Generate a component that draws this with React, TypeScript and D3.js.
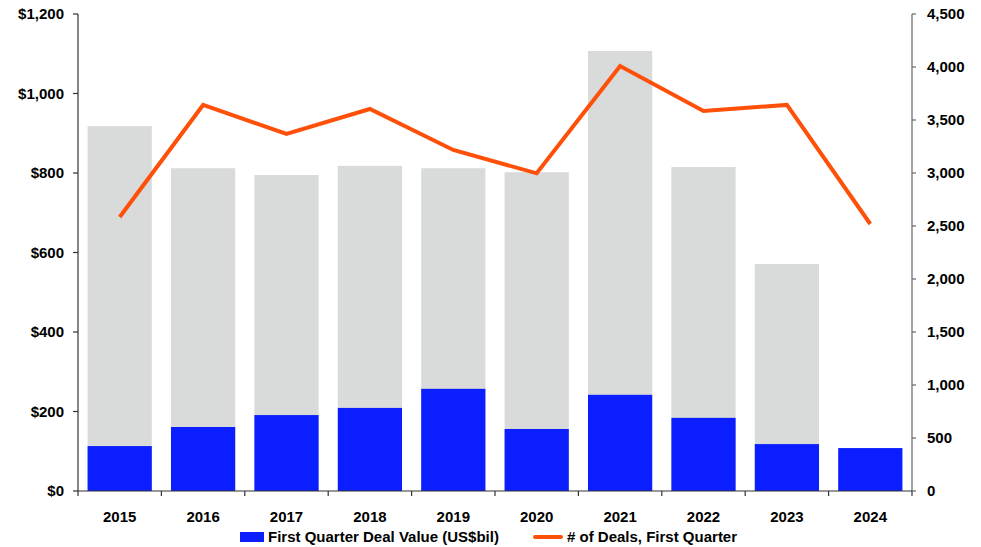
import React from "react";
import * as d3 from "d3";

const years = ["2015", "2016", "2017", "2018", "2019", "2020", "2021", "2022", "2023", "2024"];
const totalValue = [918, 812, 795, 818, 812, 802, 1107, 815, 571, 0];
const q1Value = [113, 161, 191, 209, 257, 156, 242, 184, 118, 108];
const dealCount = [2585, 3642, 3368, 3604, 3217, 2997, 4009, 3585, 3642, 2519];
const leftTicks = [0, 200, 400, 600, 800, 1000, 1200];
const rightTicks = [0, 500, 1000, 1500, 2000, 2500, 3000, 3500, 4000, 4500];

export default function App() {
  const W = 981, H = 547;
  const x0 = 78, x1 = 912, yTop = 14, yBot = 491;
  const x = d3.scaleBand().domain(years).range([x0, x1]).paddingInner(0.23).paddingOuter(0.115);
  const yL = d3.scaleLinear().domain([0, 1200]).range([yBot, yTop]);
  const yR = d3.scaleLinear().domain([0, 4500]).range([yBot, yTop]);
  const step = (x1 - x0) / years.length;
  const line = d3.line<number>().x((_, i) => x(years[i])! + x.bandwidth() / 2).y((d) => yR(d));
  const font = "'Liberation Sans', Arial, sans-serif";
  const fs = 15;
  const fmtL = (v: number) => "$" + d3.format(",")(v);
  return (
    <svg width={W} height={H} style={{ position: "absolute", left: 0, top: 0, background: "#fff" }} fontFamily={font}>
      {years.map((yr, i) =>
        totalValue[i] > 0 ? (
          <rect key={"g" + yr} x={x(yr)} y={yL(totalValue[i])} width={x.bandwidth()} height={yBot - yL(totalValue[i])} fill="#D9DADA" />
        ) : null
      )}
      {years.map((yr, i) => (
        <rect key={"b" + yr} x={x(yr)} y={yL(q1Value[i])} width={x.bandwidth()} height={yBot - yL(q1Value[i])} fill="#0A1EFF" />
      ))}
      <path d={line(dealCount)!} fill="none" stroke="#FF5009" strokeWidth={4} strokeLinejoin="miter" />
      {/* left axis */}
      <line x1={x0} x2={x0} y1={yTop} y2={yBot} stroke="#333" strokeWidth={1.2} />
      {leftTicks.map((t) => (
        <g key={"l" + t}>
          <line x1={x0 - 5} x2={x0} y1={yL(t)} y2={yL(t)} stroke="#333" strokeWidth={1.2} />
          <text x={x0 - 14} y={yL(t)} dy="0.35em" textAnchor="end" fontSize={fs} fontWeight="bold" fill="#000">{fmtL(t)}</text>
        </g>
      ))}
      {/* right axis */}
      <line x1={x1} x2={x1} y1={yTop} y2={yBot} stroke="#666" strokeWidth={1.2} />
      {rightTicks.map((t) => (
        <g key={"r" + t}>
          <line x1={x1} x2={x1 + 4} y1={yR(t)} y2={yR(t)} stroke="#666" strokeWidth={1.2} />
          <text x={x1 + 15} y={yR(t)} dy="0.35em" textAnchor="start" fontSize={fs} fontWeight="bold" fill="#000">{d3.format(",")(t)}</text>
        </g>
      ))}
      {/* bottom axis */}
      <line x1={x0} x2={x1} y1={yBot} y2={yBot} stroke="#333" strokeWidth={1.2} />
      {d3.range(years.length + 1).map((i) => (
        <line key={"bt" + i} x1={x0 + i * step} x2={x0 + i * step} y1={yBot} y2={yBot + 5} stroke="#333" strokeWidth={1.2} />
      ))}
      {years.map((yr) => (
        <text key={"xl" + yr} x={x(yr)! + x.bandwidth() / 2} y={517} dy="0.35em" textAnchor="middle" fontSize={fs} fontWeight="bold" fill="#000">{yr}</text>
      ))}
      {/* legend */}
      <rect x={240} y={532} width={24} height={10} fill="#0A1EFF" />
      <text x={268} y={537} dy="0.35em" fontSize={fs} fontWeight="bold" fill="#000">First Quarter Deal Value (US$bil)</text>
      <line x1={535} x2={561} y1={537} y2={537} stroke="#FF5009" strokeWidth={4} strokeLinecap="round" />
      <text x={567} y={537} dy="0.35em" fontSize={fs} fontWeight="bold" fill="#000"># of Deals, First Quarter</text>
    </svg>
  );
}
